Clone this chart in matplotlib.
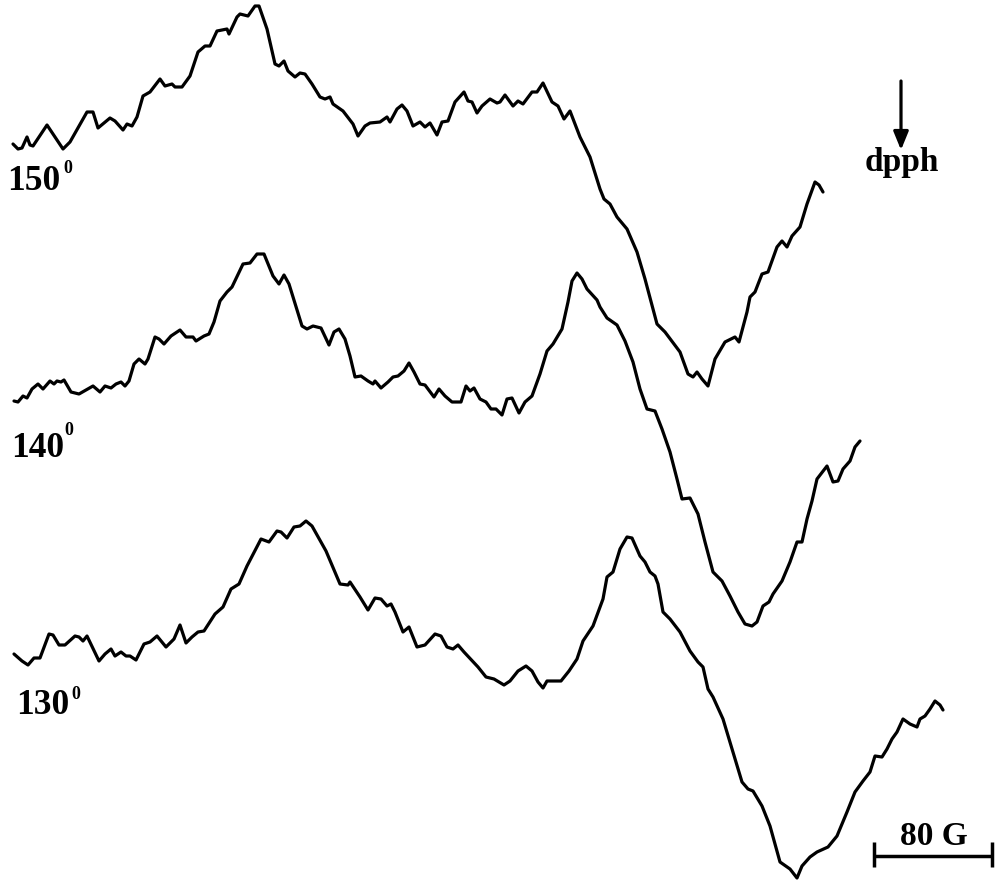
import matplotlib.pyplot as plt

# EPR traces at three temperatures, field axis left to right,
# vertical position in plot units (axis is inverted, stacked traces)
field_150 = [13, 18, 22, 27, 30, 33, 47, 63, 70, 87, 93, 98, 110, 115, 123, 127,
             132, 137, 143, 150, 160, 165, 172, 175, 182, 190, 198, 205, 210, 217,
             227, 229, 237, 240, 248, 255, 259, 267, 275, 279, 284, 288, 295, 300,
             305, 312, 320, 325, 330, 333, 343, 353, 358, 365, 370, 380, 387, 390,
             397, 402, 407, 413, 420, 425, 430, 437, 442, 448, 455, 464, 468, 472,
             477, 482, 490, 497, 500, 505, 513, 518, 523, 532, 537, 543, 552, 558,
             564, 570, 580, 590, 600, 604, 610, 617, 627, 637, 645, 657, 665, 680,
             688, 693, 697, 702, 708, 715, 725, 735, 739, 747, 750, 755, 762, 768,
             777, 782, 787, 792, 800, 807, 815, 819, 823]
signal_150 = [145, 150, 149, 138, 146, 147, 126, 150, 143, 113, 113, 129, 119, 122, 131, 125,
              127, 118, 97, 93, 80, 87, 85, 88, 88, 77, 53, 47, 47, 32,
              30, 35, 18, 15, 17, 7, 7, 30, 65, 67, 62, 72, 78, 74,
              75, 85, 98, 100, 98, 105, 112, 125, 137, 127, 124, 123, 118, 123,
              110, 106, 112, 127, 123, 128, 124, 136, 123, 122, 103, 93, 102, 103,
              114, 107, 100, 104, 103, 96, 107, 102, 105, 93, 93, 84, 103, 107,
              120, 112, 138, 158, 190, 200, 205, 218, 230, 253, 280, 325, 333, 353,
              375, 378, 373, 380, 387, 360, 343, 338, 343, 313, 298, 293, 275, 273,
              248, 242, 248, 237, 228, 205, 183, 186, 193]

field_140 = [14, 18, 23, 27, 32, 38, 43, 50, 54, 57, 61, 64, 71, 79, 86, 93, 100,
             105, 111, 116, 121, 125, 129, 134, 139, 145, 148, 155, 159, 164, 171,
             180, 186, 193, 196, 204, 209, 214, 220, 227, 232, 243, 250, 257, 264,
             273, 279, 284, 289, 302, 307, 313, 321, 329, 334, 339, 345, 350, 355,
             361, 368, 373, 375, 381, 388, 393, 398, 404, 409, 414, 420, 425, 434,
             439, 445, 452, 461, 466, 470, 474, 480, 486, 491, 496, 502, 507, 512,
             519, 525, 532, 540, 547, 553, 562, 568, 572, 577, 582, 587, 597, 600,
             607, 617, 625, 633, 640, 647, 655, 662, 670, 677, 682, 690, 698, 705,
             713, 722, 730, 738, 745, 752, 757, 763, 769, 773, 782, 790, 797, 802,
             807, 812, 817, 827, 833, 838, 843, 850, 855, 860]
signal_140 = [402, 403, 397, 399, 390, 385, 390, 382, 385, 382, 383, 381, 393, 395, 391, 387, 393,
              387, 389, 385, 383, 387, 382, 365, 360, 365, 360, 338, 340, 345, 337,
              331, 338, 338, 342, 337, 335, 323, 302, 293, 288, 265, 264, 255, 255,
              277, 285, 276, 285, 327, 330, 327, 329, 346, 333, 330, 340, 357, 378,
              377, 382, 385, 382, 389, 383, 378, 377, 372, 364, 373, 385, 386, 398,
              390, 397, 403, 403, 387, 392, 389, 400, 403, 410, 410, 416, 400, 399,
              414, 403, 397, 375, 352, 345, 330, 303, 282, 274, 280, 290, 301, 308,
              319, 326, 342, 363, 390, 410, 412, 430, 453, 480, 500, 499, 515, 543,
              573, 582, 597, 613, 625, 627, 623, 607, 603, 595, 582, 563, 543, 543,
              520, 502, 480, 467, 483, 482, 470, 462, 448, 442]

field_130 = [14, 22, 28, 34, 40, 49, 53, 59, 65, 75, 79, 83, 87, 99, 105, 111, 115,
             121, 126, 130, 136, 144, 150, 157, 166, 174, 180, 186, 192, 198, 204,
             215, 223, 231, 239, 247, 261, 269, 277, 281, 287, 294, 300, 306, 312,
             326, 340, 348, 350, 360, 368, 375, 381, 387, 391, 395, 403, 409, 417,
             425, 435, 441, 447, 453, 458, 464, 478, 486, 494, 504, 510, 518, 526,
             532, 538, 543, 547, 553, 561, 569, 577, 583, 593, 603, 607, 613, 620,
             627, 632, 640, 645, 650, 655, 658, 663, 670, 680, 690, 698, 703, 708,
             713, 723, 733, 742, 748, 753, 762, 770, 780, 790, 797, 802, 810, 817,
             828, 837, 847, 855, 863, 870, 875, 882, 887, 892, 897, 903, 910, 917,
             920, 925, 930, 935, 940, 943]
signal_130 = [655, 662, 666, 659, 659, 635, 636, 646, 646, 637, 638, 642, 637, 662, 655, 650, 657,
              653, 657, 657, 661, 645, 643, 637, 648, 640, 626, 644, 638, 633, 632,
              615, 608, 590, 585, 567, 540, 543, 532, 533, 539, 528, 527, 522, 527,
              552, 585, 586, 583, 598, 611, 599, 600, 607, 605, 613, 633, 628, 648,
              646, 635, 637, 648, 650, 646, 653, 668, 678, 680, 686, 682, 672, 667,
              672, 683, 689, 682, 682, 682, 672, 660, 642, 627, 600, 578, 573, 550,
              538, 539, 557, 563, 573, 577, 585, 613, 620, 633, 652, 663, 668, 690,
              698, 720, 753, 783, 790, 792, 807, 827, 863, 870, 879, 867, 858, 853,
              848, 837, 813, 793, 782, 773, 757, 758, 750, 740, 733, 720, 725, 728,
              720, 717, 710, 702, 706, 711]

temp_labels = ["150", "140", "130"]
scale_text = "80 G"
marker_text = "dpph"

fig = plt.figure(figsize=(9.96, 8.87), dpi=100)
ax = fig.add_axes([0, 0, 1, 1])
ax.set_xlim(0, 996)
ax.set_ylim(887, 0)
ax.axis("off")

line_kw = dict(color="black", lw=2.3, solid_joinstyle="round", solid_capstyle="round")
ax.plot(field_150, signal_150, **line_kw)
ax.plot(field_140, signal_140, **line_kw)
ax.plot(field_130, signal_130, **line_kw)

font = dict(family="Liberation Serif", weight="bold", color="black")

# temperature labels with a raised degree zero
label_pos = [(7, 190, 63, 173), (11, 457, 64, 435), (16, 714, 71, 699)]
for text, (x, y, sx, sy) in zip(temp_labels, label_pos):
    ax.text(x, y, text, fontsize=25.5, ha="left", va="baseline", **font)
    ax.text(sx, sy, "0", fontsize=13, ha="left", va="baseline", **font)

# dpph marker arrow
ax.annotate("", xy=(901, 151), xytext=(901, 82),
            arrowprops=dict(arrowstyle="-|>,head_length=1.1,head_width=0.45",
                            color="black", lw=2.3, shrinkA=0, shrinkB=0))
ax.text(902, 171, marker_text, fontsize=24, ha="center", va="baseline", **font)

# 80 G scale bar
ax.plot([874, 992], [857, 857], color="black", lw=2.5, solid_capstyle="butt")
ax.plot([874, 874], [843, 868], color="black", lw=2.5, solid_capstyle="butt")
ax.plot([992, 992], [843, 868], color="black", lw=2.5, solid_capstyle="butt")
ax.text(934, 845, scale_text, fontsize=24, ha="center", va="baseline", **font)

fig.savefig("out.png", dpi=100)
